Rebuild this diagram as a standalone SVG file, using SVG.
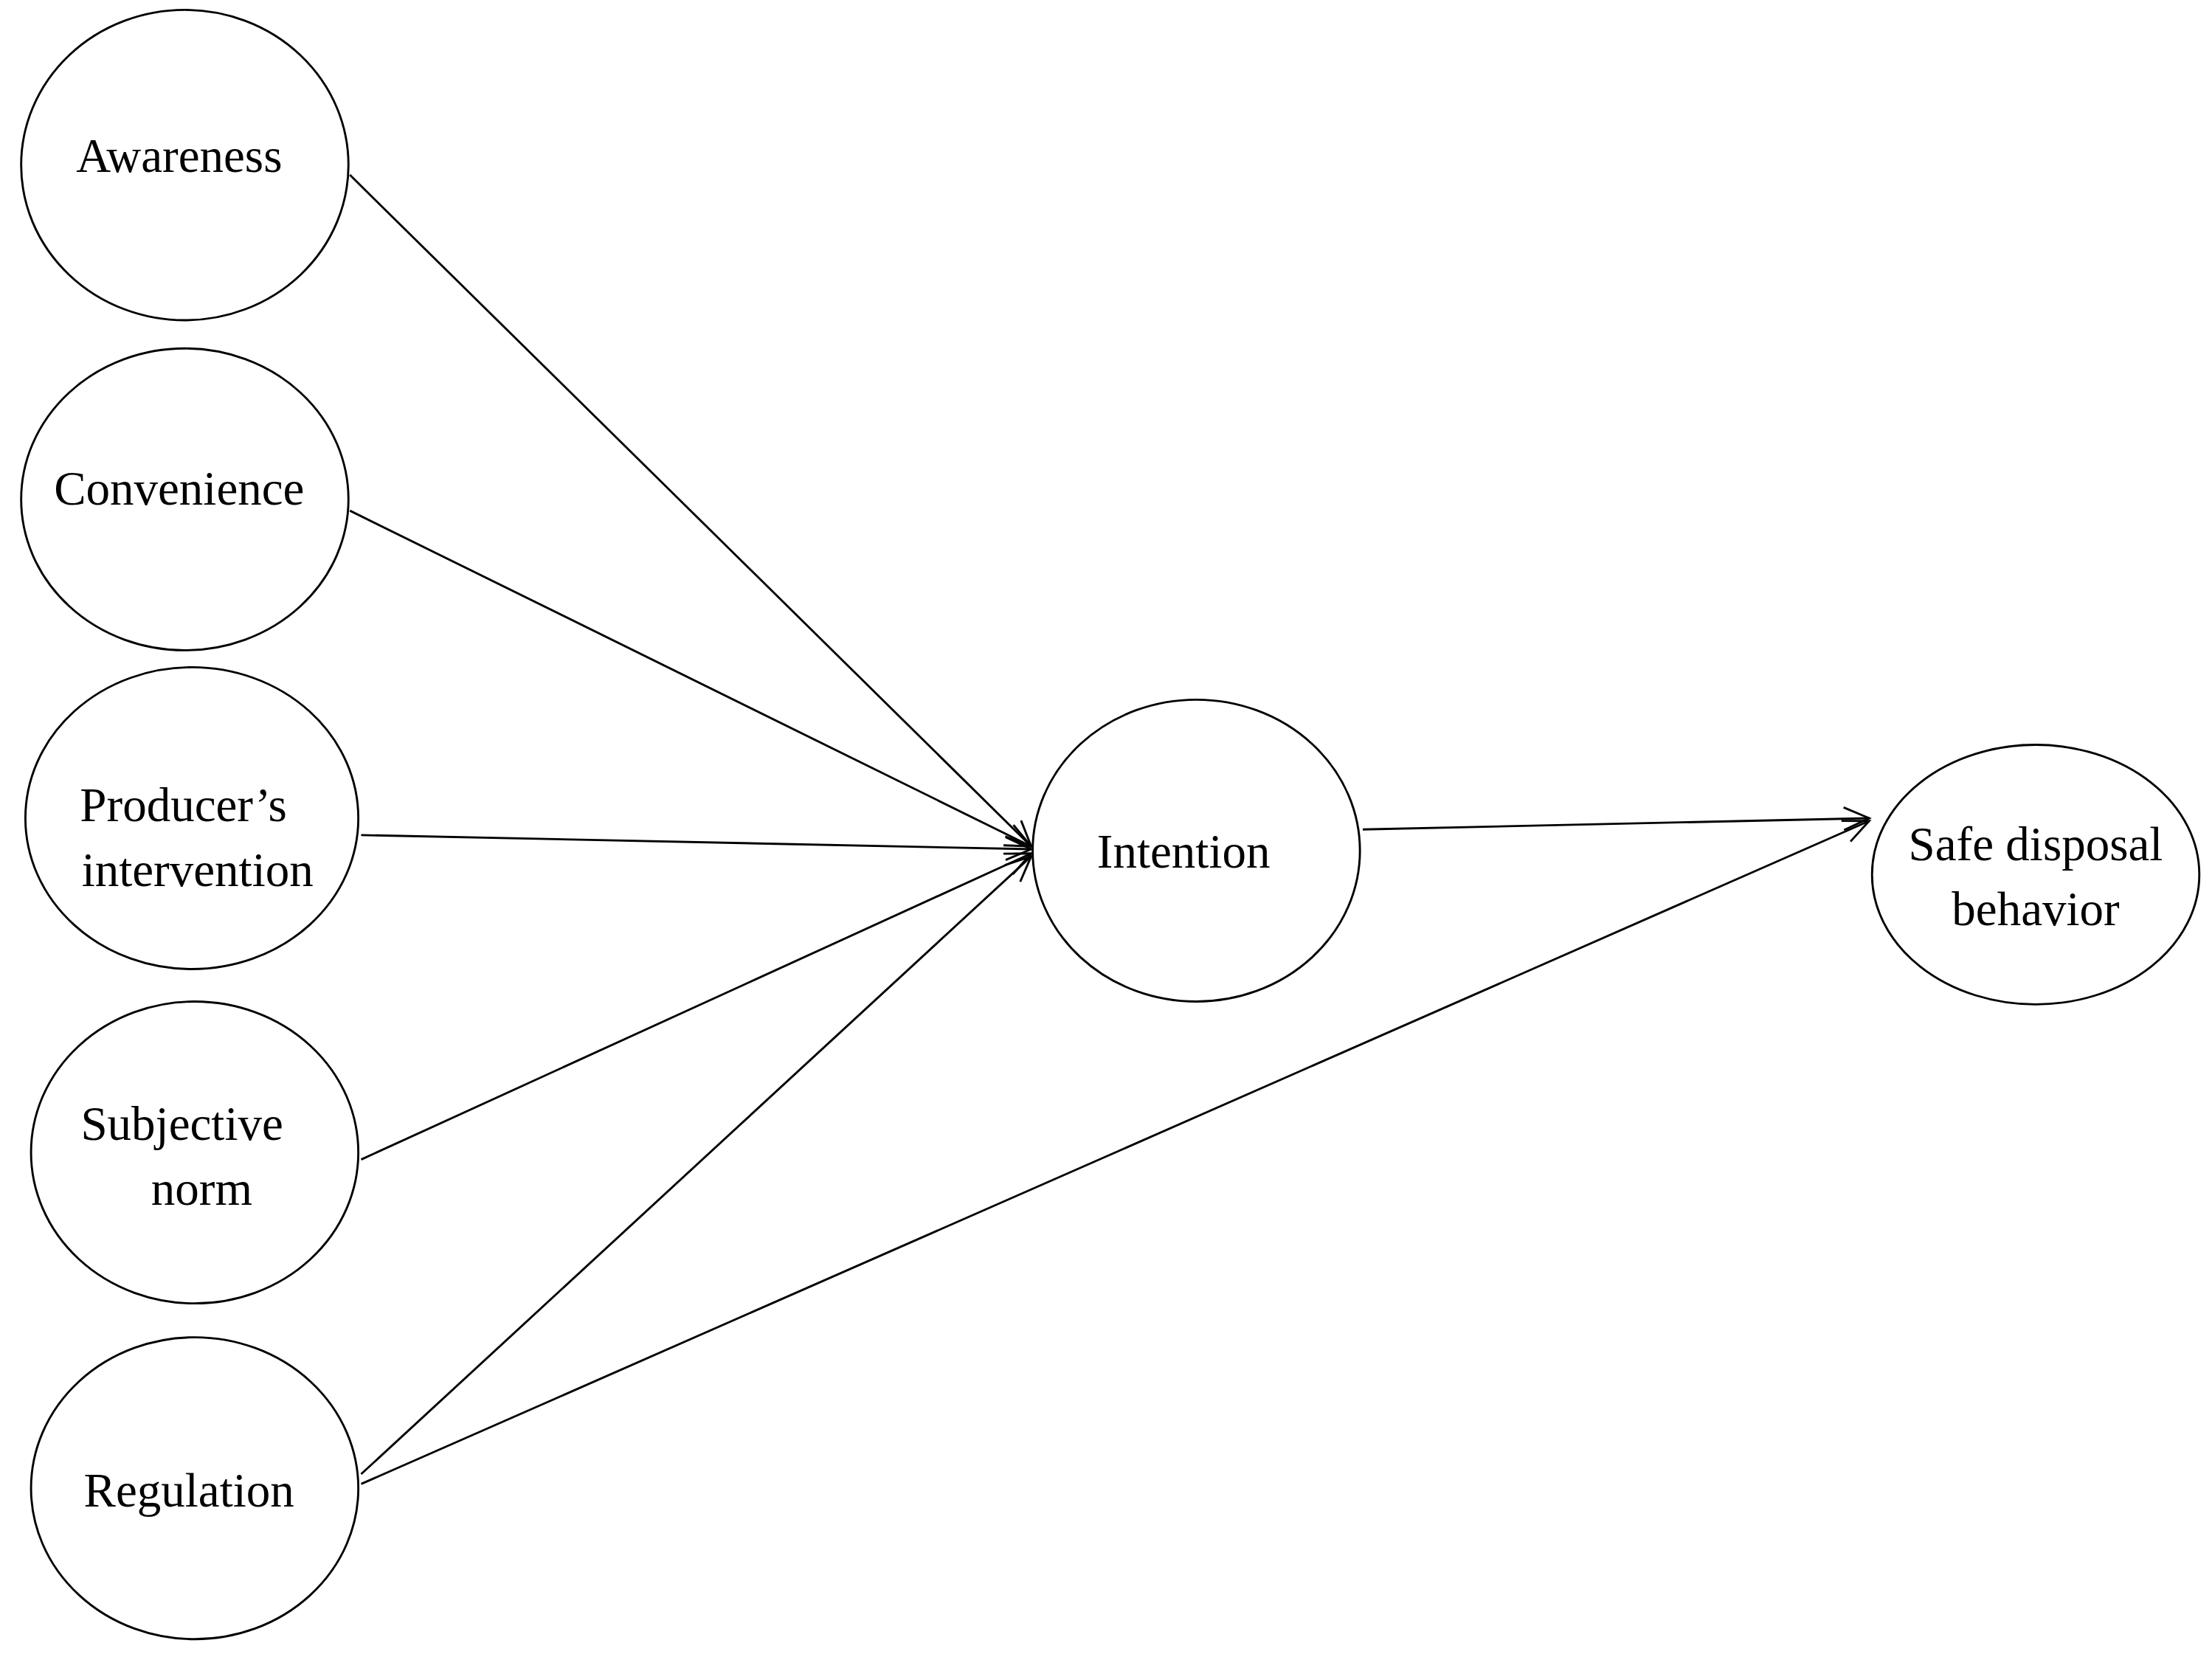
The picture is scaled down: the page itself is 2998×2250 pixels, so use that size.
<svg xmlns="http://www.w3.org/2000/svg" width="2998" height="2250" viewBox="0 0 2998 2250">
<style>
.n{fill:#fff;stroke:#000;stroke-width:1.5}
.t{font-family:"Liberation Serif","Times New Roman",serif;font-size:34px;fill:#000;text-anchor:middle}
.c{stroke:#000;stroke-width:1.5;fill:none;marker-end:url(#a)}
</style>
<defs>
<marker id="a" markerUnits="userSpaceOnUse" markerWidth="24" markerHeight="24" refX="20" refY="10" orient="auto" viewBox="0 0 24 20">
<path d="M2,2 L20,10 L2,18" fill="none" stroke="#000" stroke-width="1.5"/>
</marker>
</defs>
<rect width="2998" height="2250" fill="#fff"/>
<g transform="scale(1.912)">
<g id="connectors">
<line class="c" x1="248" y1="124" x2="731" y2="600"/>
<line class="c" x1="248" y1="362" x2="731" y2="600"/>
<line class="c" x1="256" y1="592" x2="731" y2="602"/>
<line class="c" x1="256" y1="822" x2="731" y2="605"/>
<line class="c" x1="256" y1="1045" x2="731" y2="607"/>
<line class="c" x1="966" y1="588" x2="1325" y2="580"/>
<line class="c" x1="256" y1="1052" x2="1325" y2="582"/>
</g>
<g id="awareness"><ellipse class="n" cx="131" cy="117" rx="116" ry="110"/><text class="t" x="127" y="122">Awareness</text></g>
<g id="convenience"><ellipse class="n" cx="131" cy="354" rx="116" ry="107"/><text class="t" x="127" y="358">Convenience</text></g>
<g id="producer"><ellipse class="n" cx="136" cy="580" rx="118" ry="107"/><text class="t" x="130" y="582">Producer’s</text><text class="t" x="140" y="628">intervention</text></g>
<g id="subjective"><ellipse class="n" cx="138" cy="817" rx="116" ry="107"/><text class="t" x="129" y="808">Subjective</text><text class="t" x="143" y="854">norm</text></g>
<g id="regulation"><ellipse class="n" cx="138" cy="1055" rx="116" ry="107"/><text class="t" x="134" y="1068">Regulation</text></g>
<g id="intention"><ellipse class="n" cx="848" cy="603" rx="116" ry="107"/><text class="t" x="839" y="615">Intention</text></g>
<g id="safe"><ellipse class="n" cx="1443" cy="620" rx="116" ry="92"/><text class="t" x="1443" y="610">Safe disposal</text><text class="t" x="1443" y="656">behavior</text></g>
</g>
</svg>
